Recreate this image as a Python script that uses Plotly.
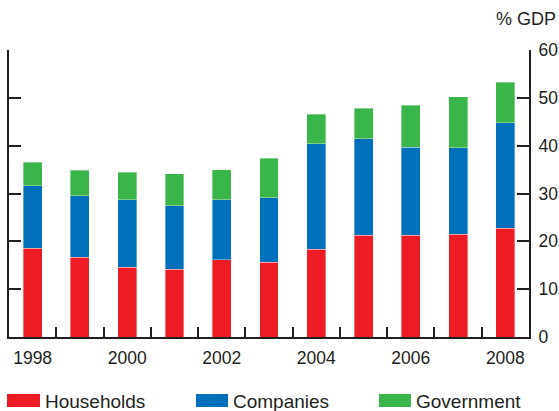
import plotly.graph_objects as go

years = [1998, 1999, 2000, 2001, 2002, 2003, 2004, 2005, 2006, 2007, 2008]
households = [18.6, 16.7, 14.6, 14.15, 16.2, 15.6, 18.3, 21.25, 21.25, 21.5, 22.7]
companies = [13.0, 12.8, 14.1, 13.3, 12.5, 13.5, 22.1, 20.2, 18.45, 18.1, 22.1]
government = [4.9, 5.35, 5.7, 6.7, 6.3, 8.25, 6.15, 6.35, 8.8, 10.6, 8.45]
series_names = ["Households", "Companies", "Government"]
colors = ["#ED1C24", "#0070BA", "#3AB54A"]
x_labels = ["1998", "2000", "2002", "2004", "2006", "2008"]
x_label_vals = [1998, 2000, 2002, 2004, 2006, 2008]
minor_ticks = [y + 0.5 for y in years[:-1]]
y_ticks = [0, 10, 20, 30, 40, 50, 60]

W, H = 559, 411
L, R, T, B = 9, 30, 50, 74
pw, ph = W - L - R, H - T - B
font = "Liberation Sans, Arial, sans-serif"
dark = "#231F20"

fig = go.Figure()
for name, vals, col in zip(series_names, [households, companies, government], colors):
    fig.add_trace(go.Bar(
        x=years, y=vals, name=name, width=0.4,
        marker=dict(color=col, line=dict(color="rgba(255,255,255,0.45)", width=0.8)),
        showlegend=False,
    ))

# invisible trace for right axis
fig.add_trace(go.Scatter(x=[years[0]], y=[0], yaxis="y2", mode="markers",
                         marker=dict(opacity=0), showlegend=False, hoverinfo="skip"))

fig.update_layout(
    width=W, height=H, barmode="stack",
    margin=dict(l=L, r=R, t=T, b=B, autoexpand=False),
    plot_bgcolor="white", paper_bgcolor="white",
    font=dict(family=font, size=17.5, color=dark),
    xaxis=dict(
        range=[1997.5, 2008.5], showline=True, linecolor=dark, linewidth=2,
        tickvals=x_label_vals, ticktext=x_labels, ticks="", showgrid=False,
        zeroline=False, ticklabelstandoff=4,
        minor=dict(tickvals=minor_ticks, ticks="inside", ticklen=10,
                   tickwidth=2, tickcolor=dark, showgrid=False),
    ),
    yaxis=dict(
        range=[0, 60], showline=True, linecolor=dark, linewidth=2,
        tickvals=y_ticks, ticks="inside", ticklen=12, tickwidth=2, tickcolor=dark,
        showticklabels=False, showgrid=False, zeroline=False,
    ),
    yaxis2=dict(
        range=[0, 60], overlaying="y", side="right", showline=True, linecolor=dark,
        linewidth=2, tickvals=y_ticks, ticks="inside", ticklen=12, tickwidth=2,
        tickcolor=dark, showgrid=False, zeroline=False, ticklabelstandoff=4,
    ),
)

def px2x(px):
    return (px - L) / pw

def py2y(py):
    return (H - B - py) / ph

fig.add_annotation(text="% GDP", xref="paper", yref="paper", x=px2x(558), y=py2y(19),
                   xanchor="right", yanchor="middle", showarrow=False,
                   font=dict(size=18, color=dark, family=font))

legend_pos = [(7, 40, 45), (196, 228, 233), (379, 411, 416)]
for name, col, (x0, x1, tx) in zip(series_names, colors, legend_pos):
    fig.add_shape(type="rect", xref="paper", yref="paper",
                  x0=px2x(x0), x1=px2x(x1), y0=py2y(407), y1=py2y(394),
                  fillcolor=col, line=dict(width=0))
    fig.add_annotation(text=name, xref="paper", yref="paper", x=px2x(tx) - 0.004, y=py2y(401),
                       xanchor="left", yanchor="middle", showarrow=False,
                       font=dict(size=19, color=dark, family=font))

fig.write_html("out.html", config={"displayModeBar": False},
               post_script="document.body.style.margin='0';document.body.style.overflow='hidden';")
